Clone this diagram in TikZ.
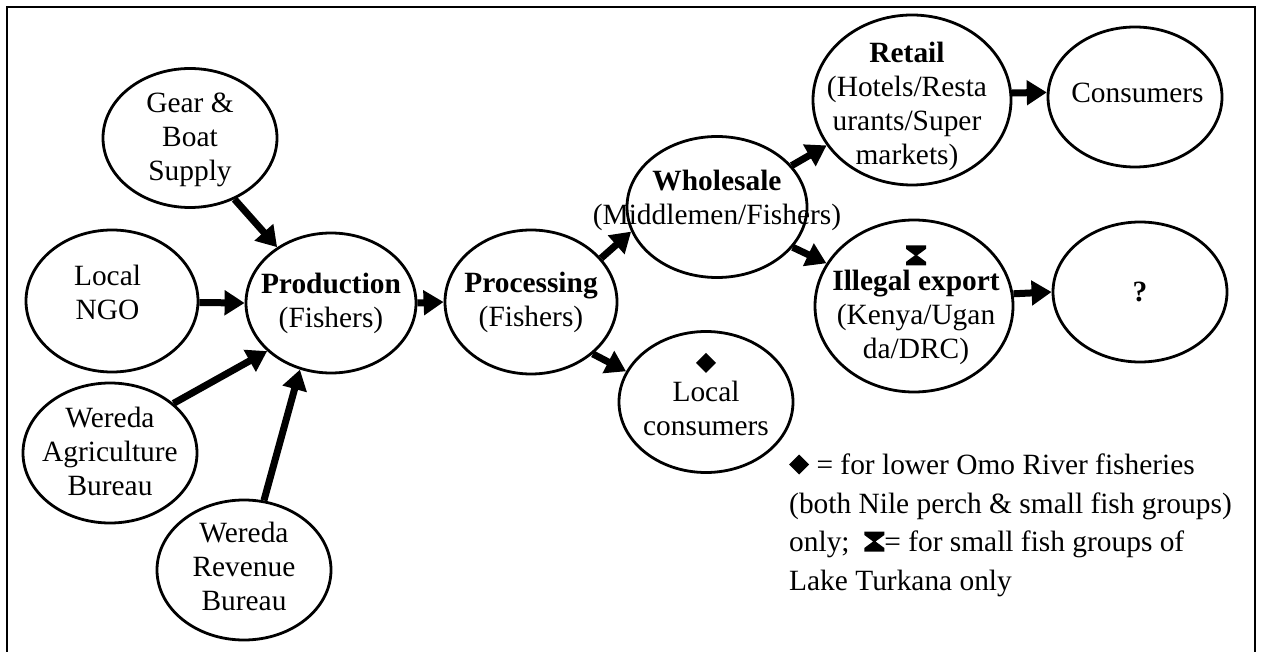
\documentclass[tikz,border=0pt]{standalone}
\usepackage{fontspec}
\setmainfont{Liberation Serif}
\usetikzlibrary{shapes.geometric,arrows.meta}
\newcommand{\dmdsym}[1]{\tikz[x=1pt,y=1pt,baseline=#1pt]\fill (0,0)--(10,10)--(0,20)--(-10,10)--cycle;}
\newcommand{\hgsym}[1]{\tikz[x=1pt,y=1pt,baseline=#1pt]\fill (-10,0)--(10,0)--(10,3.5)--(1.2,10)--(10,16.5)--(10,20)--(-10,20)--(-10,16.5)--(-1.2,10)--(-10,3.5)--cycle;}
\begin{document}
\begin{tikzpicture}[x=1pt,y=-1pt,
  ell/.style={ellipse,draw,line width=2.8pt,inner sep=0pt},
  txt/.style={align=center,inner sep=0pt,font=\fontsize{29.4}{34}\selectfont},
  arr/.style={line width=7pt,-{Triangle[length=20pt,width=24pt]}}]
\useasboundingbox (0,0) rectangle (1261,652);
\draw[line width=2.5pt] (7,656)--(7,7)--(1255,7)--(1255,656);

% ellipses
\node[ell,minimum width=174pt,minimum height=139pt] (gear) at (190,138) {};
\node[ell,minimum width=172pt,minimum height=142pt] (ngo) at (112,301) {};
\node[ell,minimum width=170pt,minimum height=140pt] (prod) at (331,303) {};
\node[ell,minimum width=174pt,minimum height=140pt] (agri) at (110,453) {};
\node[ell,minimum width=174pt,minimum height=140pt] (rev) at (244,570) {};
\node[ell,minimum width=172pt,minimum height=144pt] (proc) at (531,302) {};
\node[ell,minimum width=180pt,minimum height=141pt] (whole) at (717,207) {};
\node[ell,minimum width=198pt,minimum height=170pt] (retail) at (912,100) {};
\node[ell,minimum width=174pt,minimum height=140pt] (cons) at (1135,97) {};
\node[ell,minimum width=198pt,minimum height=172pt] (illeg) at (914,306) {};
\node[ell,minimum width=174pt,minimum height=140pt] (quest) at (1140,292) {};
\node[ell,minimum width=174pt,minimum height=141pt] (local) at (706,402) {};

% texts
\node[txt,yshift=-2pt] (geart) at (gear) {Gear \&\\Boat\\Supply};
\node[txt,xshift=-4.5pt,yshift=9pt] (ngot) at (ngo) {Local\\NGO};
\node[txt] (prodt) at (prod) {\textbf{Production}\\(Fishers)};
\node[txt,yshift=2pt] (agrit) at (agri) {Wereda\\Agriculture\\Bureau};
\node[txt,yshift=4pt] (revt) at (rev) {Wereda\\Revenue\\Bureau};
\node[txt] (proct) at (proc) {\textbf{Processing}\\(Fishers)};
\node[txt,yshift=7pt] (wholet) at (whole) {\textbf{Wholesale}\\(Middlemen/Fishers)};
\node[txt,xshift=-5pt,yshift=-6pt] (retailt) at (retail) {\textbf{Retail}\\(Hotels/Resta\\urants/Super\\markets)};
\node[txt,xshift=2.5pt,yshift=4pt] (const) at (cons) {Consumers};
\node[txt,xshift=2pt,yshift=1pt] (illegt) at (illeg) {\hgsym{9}\\\textbf{Illegal export}\\(Kenya/Ugan\\da/DRC)};
\node[txt] (questt) at (quest) {\textbf{?}};
\node[txt,yshift=7.5pt] (localt) at (local) {\dmdsym{5}\\Local\\consumers};

% legend
\node[anchor=base west,align=left,inner sep=0pt,font=\fontsize{29.4}{38.5}\selectfont] (legend) at (789,590)
  {\dmdsym{0} = for lower Omo River fisheries\\(both Nile perch \& small fish groups)\\only;~~\hgsym{0}= for small fish groups of\\Lake Turkana only};

% arrows
\draw[arr] (gear.-54) -- (prod.134.5);
\draw[arr] (ngo.-1) -- (prod.180);
\draw[arr] (agri.38) -- (prod.217.4);
\draw[arr] (rev.74) -- (prod.245.4);
\draw[arr] (prod.0) -- (proc.180);
\draw[arr] (proc.32.4) -- (whole.196.6);
\draw[arr] (proc.-40.8) -- (local.159.7);
\draw[arr] (whole.29.4) -- (retail.208.1);
\draw[arr] (whole.-28.1) -- (illeg.154.7);
\draw[arr] (retail.4) -- (cons.177.4);
\draw[arr] (illeg.7.1) -- (quest.180.6);
\end{tikzpicture}
\end{document}
